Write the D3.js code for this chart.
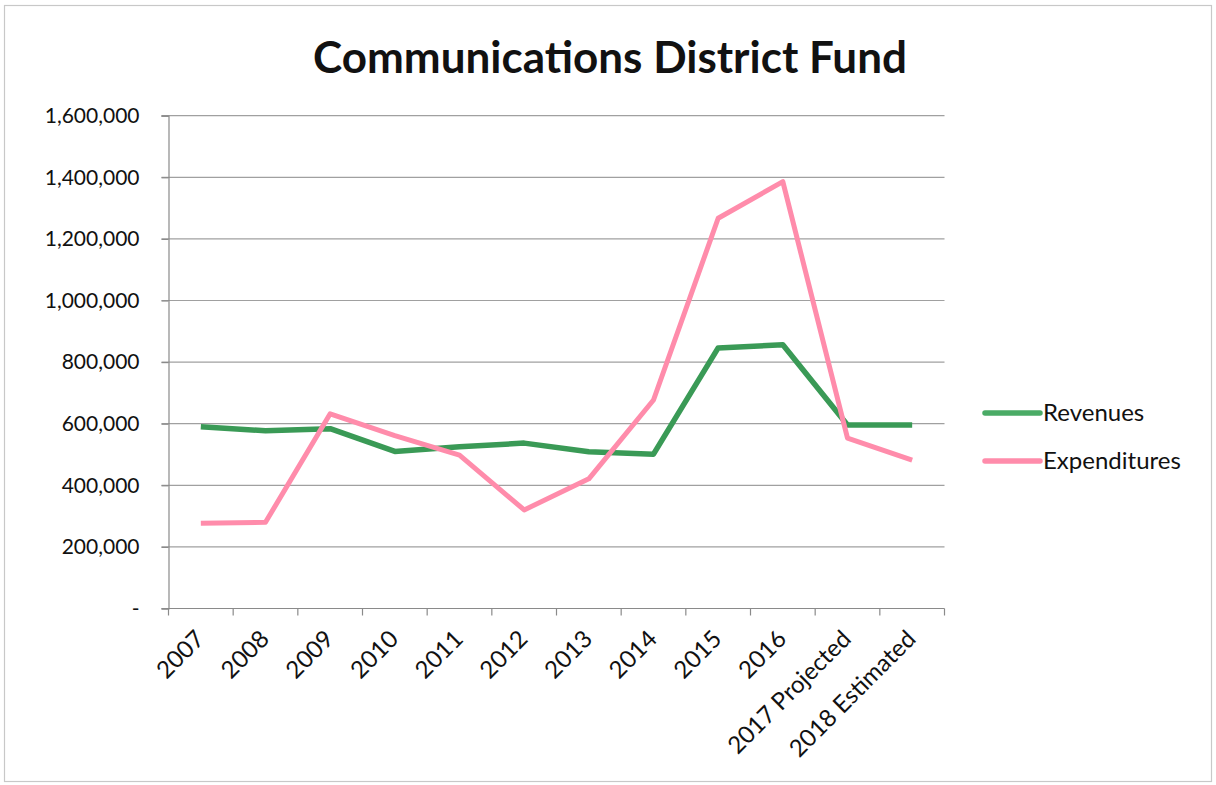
<!DOCTYPE html>
<html>
<head>
<meta charset="utf-8">
<script src="https://cdn.jsdelivr.net/npm/d3@7"></script>
<style>
  html, body { margin: 0; padding: 0; background: #fff; }
  svg { display: block; font-family: Lato, "Open Sans", sans-serif; }
</style>
</head>
<body>
<svg id="chart" width="1216" height="785"></svg>
<script>
// Fiscal years shown on the x axis
const years = ["2007", "2008", "2009", "2010", "2011", "2012", "2013", "2014",
               "2015", "2016", "2017 Projected", "2018 Estimated"];
// Annual totals in dollars
const revenues = [590000, 577000, 584000, 510000, 525000, 537000, 509000, 501000,
                  846000, 856000, 596000, 596000];
const expenditures = [277000, 280000, 632000, 561000, 498000, 320000, 421000, 677000,
                      1267000, 1386000, 553000, 482000];
const yTicks = [0, 200000, 400000, 600000, 800000, 1000000, 1200000, 1400000, 1600000];
const seriesNames = ["Revenues", "Expenditures"];
const seriesColors = ["#3a9a56", "#ff8cab"];

const svg = d3.select("#chart");
const plotLeft = 168.5, plotRight = 944.5, plotTop = 115.7, plotBottom = 608.5;

// Outer frame
svg.append("rect")
  .attr("x", 4.5).attr("y", 5.5).attr("width", 1207).attr("height", 776)
  .attr("fill", "#fff").attr("stroke", "#c8c8c8").attr("stroke-width", 1.2);

// Title
svg.append("text")
  .attr("x", 610).attr("y", 73)
  .attr("text-anchor", "middle")
  .attr("font-size", 44).attr("font-weight", 700)
  .attr("fill", "#111")
  .text("Communications District Fund");

const x = d3.scaleBand().domain(years).range([plotLeft, plotRight]);
const y = d3.scaleLinear().domain([0, 1600000]).range([plotBottom, plotTop]);

// Horizontal gridlines
svg.append("g")
  .selectAll("line")
  .data(yTicks.slice(1))
  .join("line")
  .attr("x1", plotLeft - 7).attr("x2", plotRight)
  .attr("y1", d => y(d)).attr("y2", d => y(d))
  .attr("stroke", "#a0a0a0").attr("stroke-width", 1.2);

// Y axis
const fmt = d3.format(",");
const yAxis = svg.append("g")
  .attr("transform", `translate(${plotLeft},0)`)
  .call(d3.axisLeft(y).tickValues(yTicks).tickSize(7).tickPadding(22)
    .tickFormat(d => d === 0 ? "-" : fmt(d)));
yAxis.select(".domain").attr("stroke", "#8a8a8a").attr("stroke-width", 1.2);
yAxis.selectAll(".tick line").attr("stroke", "#8a8a8a").attr("stroke-width", 1.2);
yAxis.selectAll("text")
  .attr("font-size", 21).attr("fill", "#111")
  .attr("font-family", "Lato, sans-serif");

// X axis with tick marks at band boundaries
const xAxisG = svg.append("g").attr("transform", `translate(0,${plotBottom})`);
xAxisG.append("line")
  .attr("x1", plotLeft - 7).attr("x2", plotRight)
  .attr("stroke", "#8a8a8a").attr("stroke-width", 1.2);
const boundaries = years.map(d => x(d)).concat([plotRight]);
xAxisG.selectAll("line.tk")
  .data(boundaries)
  .join("line").attr("class", "tk")
  .attr("x1", d => d).attr("x2", d => d)
  .attr("y1", 0).attr("y2", 7)
  .attr("stroke", "#8a8a8a").attr("stroke-width", 1.2);
xAxisG.selectAll("text")
  .data(years)
  .join("text")
  .attr("transform", d => `translate(${x(d) + x.bandwidth() / 2 + 5},${32}) rotate(-45)`)
  .attr("text-anchor", "end")
  .attr("font-size", 24).attr("fill", "#111")
  .text(d => d);

// Series lines
const line = d3.line()
  .x((d, i) => x(years[i]) + x.bandwidth() / 2)
  .y(d => y(d));
[revenues, expenditures].forEach((vals, k) => {
  svg.append("path")
    .datum(vals)
    .attr("d", line)
    .attr("fill", "none")
    .attr("stroke", seriesColors[k])
    .attr("stroke-width", k === 0 ? 5.5 : 5)
    .attr("stroke-linejoin", "round")
    .attr("stroke-linecap", "butt");
});

// Legend
const legend = svg.append("g");
seriesNames.forEach((name, k) => {
  const ly = 413 + k * 48;
  legend.append("line")
    .attr("x1", 985).attr("x2", 1040).attr("y1", ly).attr("y2", ly)
    .attr("stroke", k === 0 ? "#4aab66" : seriesColors[k])
    .attr("stroke-width", 5.5).attr("stroke-linecap", "round");
  legend.append("text")
    .attr("x", 1043).attr("y", ly + 8)
    .attr("font-size", 24).attr("fill", "#111")
    .text(name);
});
</script>
</body>
</html>
